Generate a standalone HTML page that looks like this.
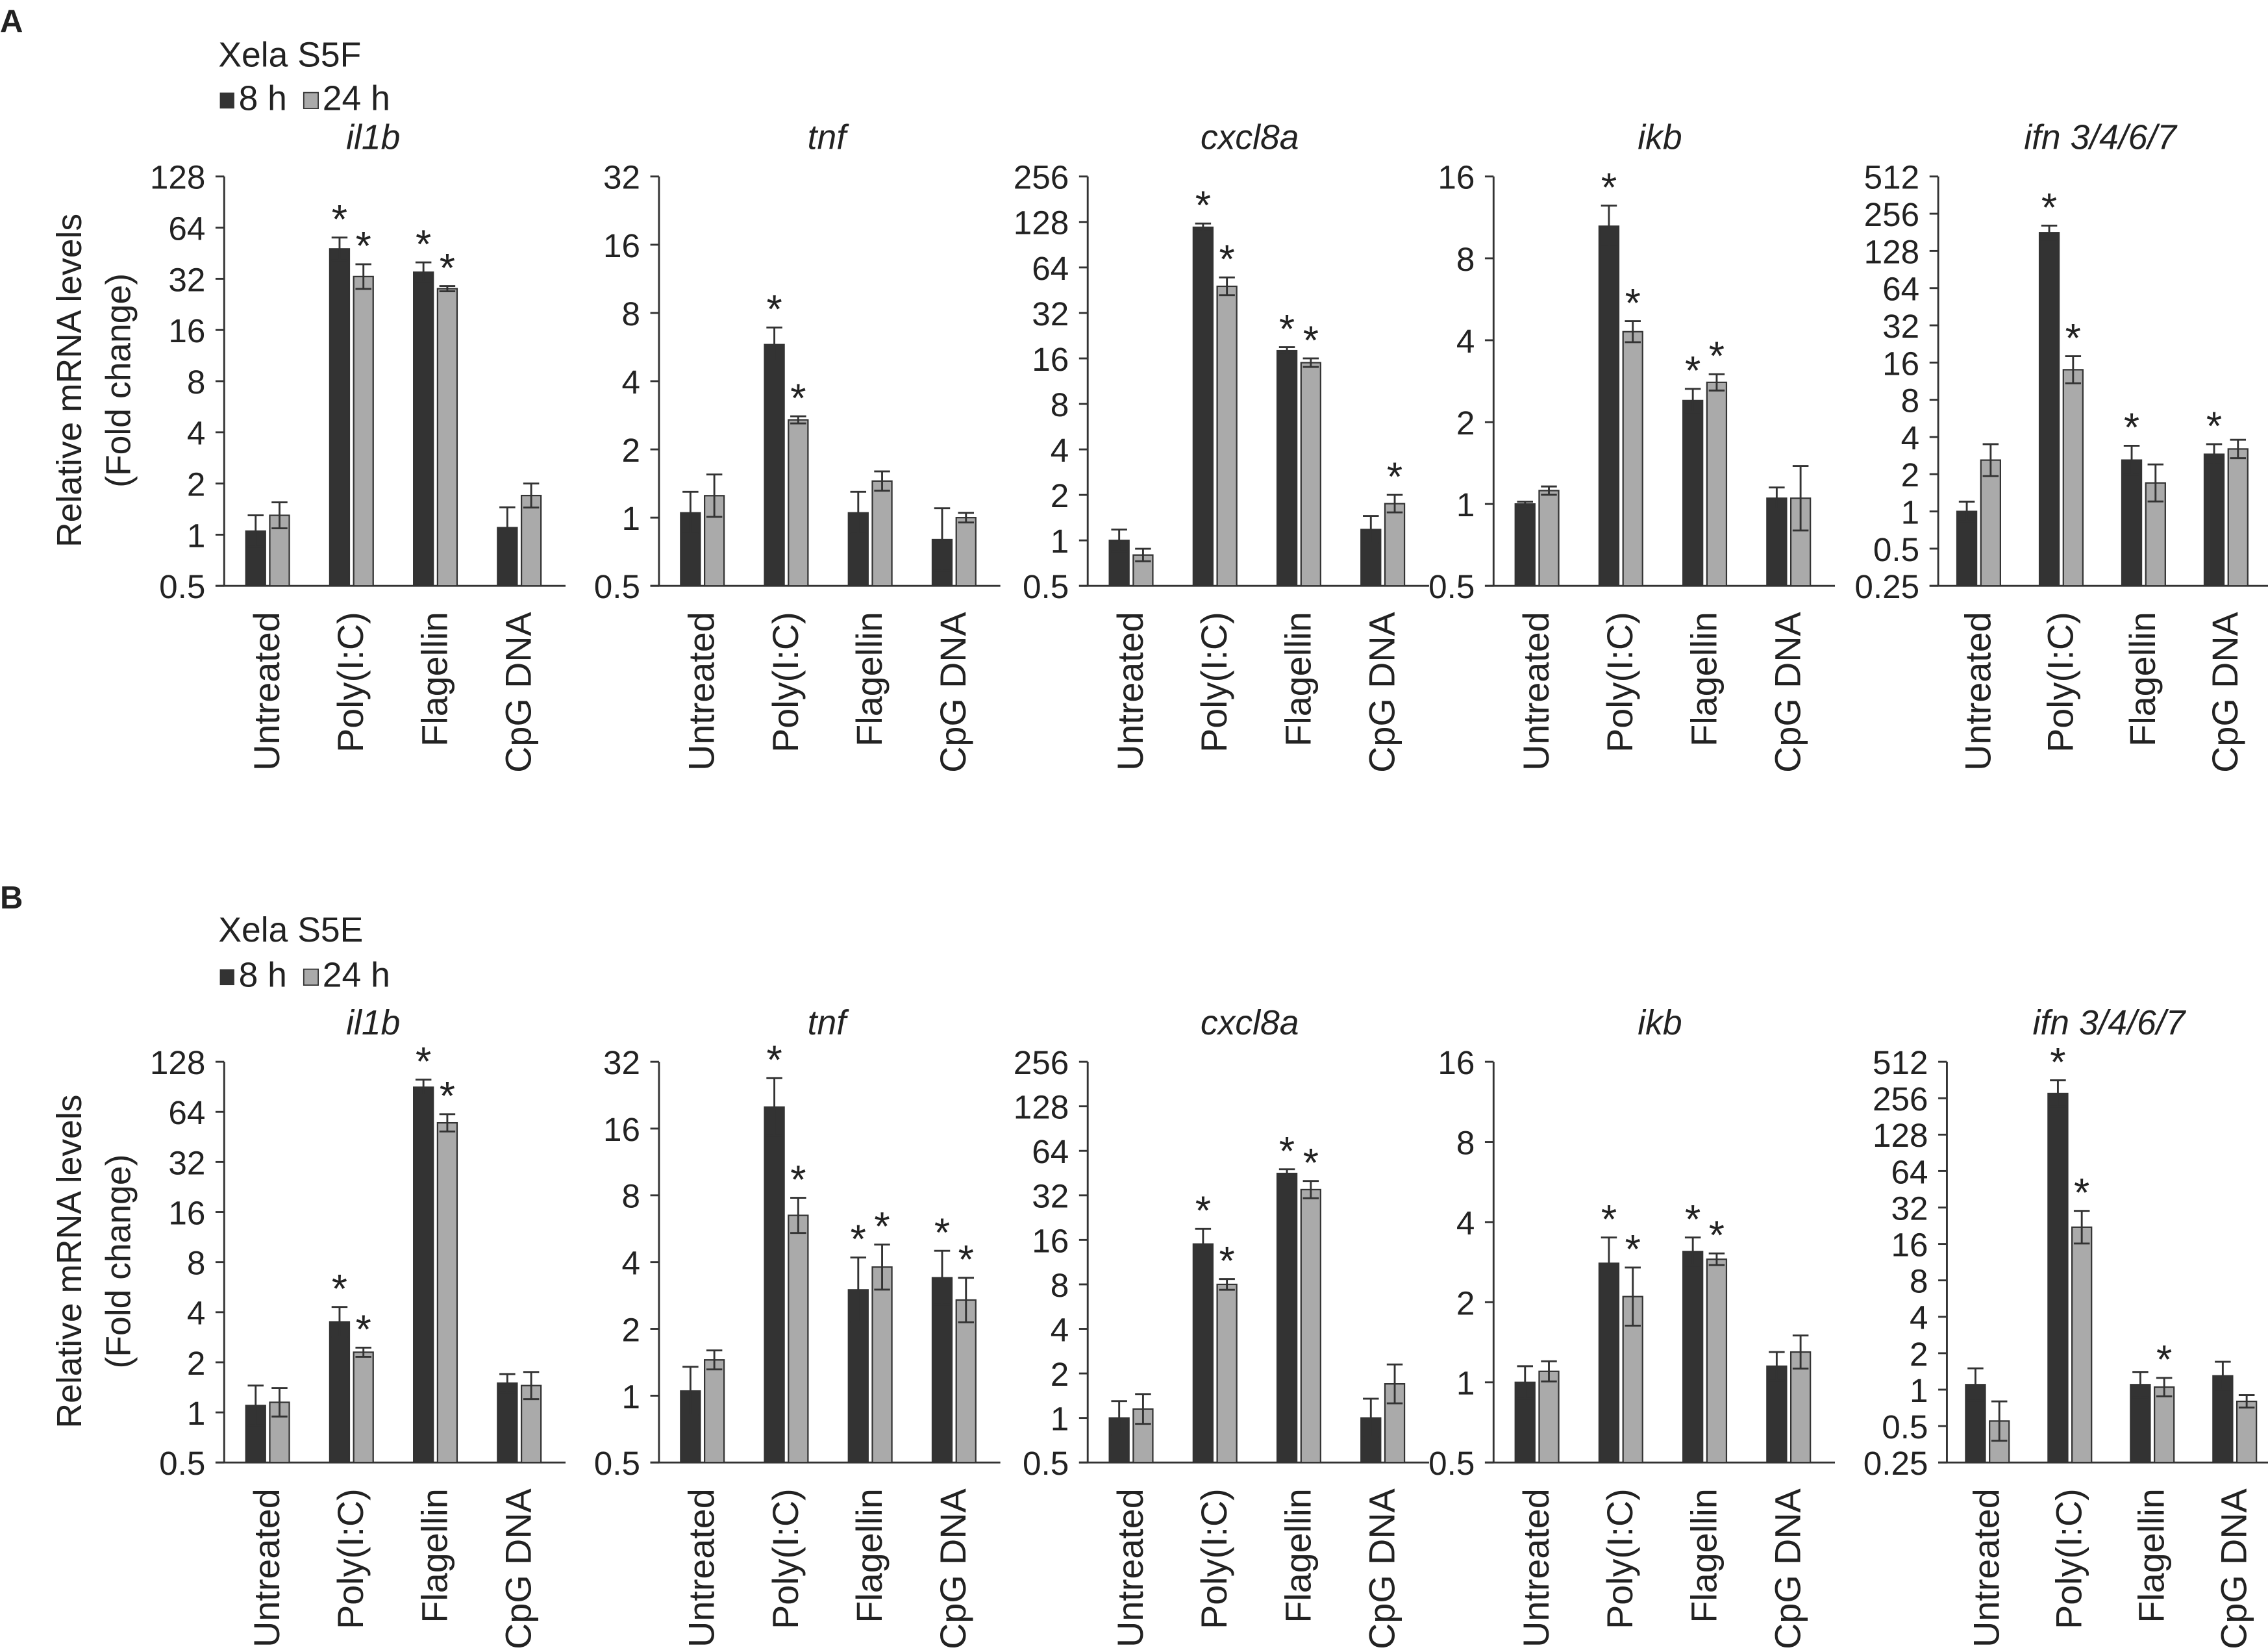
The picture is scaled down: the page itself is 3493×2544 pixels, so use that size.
<!DOCTYPE html>
<html><head><meta charset="utf-8"><style>
html,body{margin:0;padding:0;background:#fff}
svg{display:block}
text{font-family:"Liberation Sans",Arial,sans-serif;fill:#222}
</style></head><body>
<svg id="fig" xmlns="http://www.w3.org/2000/svg" width="3493" height="2544" viewBox="0 0 1568 1142" preserveAspectRatio="none">
<g id="static">
<text x="0" y="22" font-size="22" font-weight="bold">A</text>
<text x="151" y="46" font-size="24">Xela S5F</text>
<g>
<rect x="152" y="64" width="10" height="11" fill="#333"/>
<text x="165" y="76" font-size="24">8 h</text>
<rect x="210" y="64" width="10" height="11" fill="#aaa" stroke="#333" stroke-width="0.8"/>
<text x="223" y="76" font-size="24">24 h</text>
</g>
<text x="0" y="628" font-size="22" font-weight="bold">B</text>
<text x="151" y="651" font-size="24">Xela S5E</text>
<g>
<rect x="152" y="670" width="10" height="11" fill="#333"/>
<text x="165" y="682" font-size="24">8 h</text>
<rect x="210" y="670" width="10" height="11" fill="#aaa" stroke="#333" stroke-width="0.8"/>
<text x="223" y="682" font-size="24">24 h</text>
</g>
<text transform="translate(56,263) rotate(-90)" text-anchor="middle" font-size="24">Relative mRNA levels</text>
<text transform="translate(90,263) rotate(-90)" text-anchor="middle" font-size="24">(Fold change)</text>
<text transform="translate(56,872) rotate(-90)" text-anchor="middle" font-size="24">Relative mRNA levels</text>
<text transform="translate(90,872) rotate(-90)" text-anchor="middle" font-size="24">(Fold change)</text>
</g>
<g id="charts"></g>
</svg>
<script>
const categories = ["Untreated","Poly(I:C)","Flagellin","CpG DNA"];
const genes = ["il1b","tnf","cxcl8a","ikb","ifn 3/4/6/7"];
const tickSets = [
  ["0.5","1","2","4","8","16","32","64","128"],
  ["0.5","1","2","4","8","16","32"],
  ["0.5","1","2","4","8","16","32","64","128","256"],
  ["0.5","1","2","4","8","16"],
  ["0.25","0.5","1","2","4","8","16","32","64","128","256","512"]
];
// Panel A values (mean, upper error end)
const a8 = [[1.05,48,35,1.1],[1.05,5.8,1.05,0.8],[1.0,118,18,1.18],[1.0,10.5,2.4,1.05],[1.0,180,2.6,2.9]];
const a24 = [[1.3,33,28,1.7],[1.25,2.7,1.45,1.0],[0.8,48,15,1.75],[1.12,4.3,2.8,1.05],[2.6,14,1.7,3.2]];
const a8Err = [[1.3,56,40,1.45],[1.3,6.9,1.3,1.1],[1.18,125,19,1.45],[1.02,12.5,2.65,1.15],[1.2,205,3.4,3.5]];
const a24Err = [[1.55,39,29,2.0],[1.55,2.8,1.6,1.05],[0.88,55,16,2.0],[1.16,4.7,3.0,1.38],[3.5,18,2.4,3.8]];
const a8Sig = [[0,1,1,0],[0,1,0,0],[0,1,1,0],[0,1,1,0],[0,1,1,1]];
const a24Sig = [[0,1,1,0],[0,1,0,0],[0,1,1,1],[0,1,1,0],[0,1,0,0]];
// Panel B values
const b8 = [[1.1,3.5,90,1.5],[1.05,20,3.0,3.4],[1.0,15,45,1.0],[1.0,2.8,3.1,1.15],[1.1,280,1.1,1.3]];
const b24 = [[1.15,2.3,55,1.45],[1.45,6.5,3.8,2.7],[1.15,8,35,1.7],[1.1,2.1,2.9,1.3],[0.55,22,1.05,0.8]];
const b8Err = [[1.45,4.3,100,1.7],[1.35,27,4.2,4.5],[1.3,19,48,1.35],[1.15,3.5,3.5,1.3],[1.5,360,1.4,1.7]];
const b24Err = [[1.4,2.45,62,1.75],[1.6,7.8,4.8,3.4],[1.45,8.7,40,2.3],[1.2,2.7,3.05,1.5],[0.8,30,1.25,0.9]];
const b8Sig = [[0,1,1,0],[0,1,1,1],[0,1,1,0],[0,1,1,0],[0,1,0,0]];
const b24Sig = [[0,1,1,0],[0,1,1,1],[0,1,1,0],[0,1,1,0],[0,1,1,0]];

const NS="http://www.w3.org/2000/svg";
const root=document.getElementById('charts');
function mk(tag,attrs,parent){const e=document.createElementNS(NS,tag);for(const k in attrs)e.setAttribute(k,attrs[k]);(parent||root).appendChild(e);return e;}

const axisXA=[155,455.6,752,1032.6,1340];
const axisXB=[155,455.6,752,1032.6,1346];
const titleOff=[103,116,112,115,112];

function drawPanel(pid,top,bottom,axisXs,v8,v24,e8,e24,s8,s24){
  genes.forEach((gene,gi)=>{
    const ticks=tickSets[gi];
    const lo=Math.log2(parseFloat(ticks[0])), hi=Math.log2(parseFloat(ticks[ticks.length-1]));
    const y=v=>bottom-(Math.log2(v)-lo)/(hi-lo)*(bottom-top);
    const ax=axisXs[gi];
    const sp = gi===4?57:58;
    const off = gi===4?28:30;
    const xc=i=>ax+off+i*sp;
    const g=mk('g',{});
    
    
    const t=mk('text',{x:ax+titleOff[gi],y:top-19,'text-anchor':'middle','font-size':'24','font-style':'italic'},g);
    t.textContent=gene;
    
    
    const ya=mk('line',{x1:ax,y1:top,x2:ax,y2:bottom,stroke:'#333','stroke-width':'1.3'},g);
    
    
    const xa=mk('line',{x1:ax-6,y1:bottom,x2:ax+236,y2:bottom,stroke:'#333','stroke-width':'1.3'},g);
    
    
    ticks.forEach(tl=>{
      const ty=y(parseFloat(tl));
      const tk=mk('line',{x1:ax-6,y1:ty,x2:ax,y2:ty,stroke:'#333','stroke-width':'1.3'},g);
      
      
      const lb=mk('text',{x:ax-13,y:ty+8.5,'text-anchor':'end','font-size':'23'},g);
      lb.textContent=tl;
      
      
    });
    categories.forEach((c,ci)=>{
      const cx=xc(ci);
      const lb=mk('text',{transform:`translate(${cx+8},${bottom+18}) rotate(-90)`,'text-anchor':'end','font-size':'25'},g);
      lb.textContent=c;
      
      
      [[v8,e8,s8,'#333',cx-15,'8h'],[v24,e24,s24,'#aaa',cx+1.5,'24h']].forEach(([vv,ee,ss,fill,bx,sn])=>{
        const v=vv[gi][ci], up=ee[gi][ci], lo2=v*v/up;
        const by=y(v);
        const r=mk('rect',{x:bx,y:by,width:13.5,height:bottom-by,fill:fill,stroke:'#333','stroke-width':'1'},g);
        
        
        const mx=bx+6.75, yu=y(up), yl=y(lo2);
        const eb=mk('path',{d:`M${mx},${yu}L${mx},${yl}M${mx-5.5},${yu}L${mx+5.5},${yu}M${mx-5.5},${yl}L${mx+5.5},${yl}`,stroke:'#333','stroke-width':'1.3',fill:'none'},g);
        
        
        if(ss[gi][ci]){
          const st=mk('text',{x:mx,y:yu-3,'text-anchor':'middle','font-size':'28'},g);
          st.textContent='*';
          
          
        }
      });
    });
  });
}
drawPanel('panel-a',122,405,axisXA,a8,a24,a8Err,a24Err,a8Sig,a24Sig);
drawPanel('panel-b',734,1011,axisXB,b8,b24,b8Err,b24Err,b8Sig,b24Sig);
</script>
</body></html>
